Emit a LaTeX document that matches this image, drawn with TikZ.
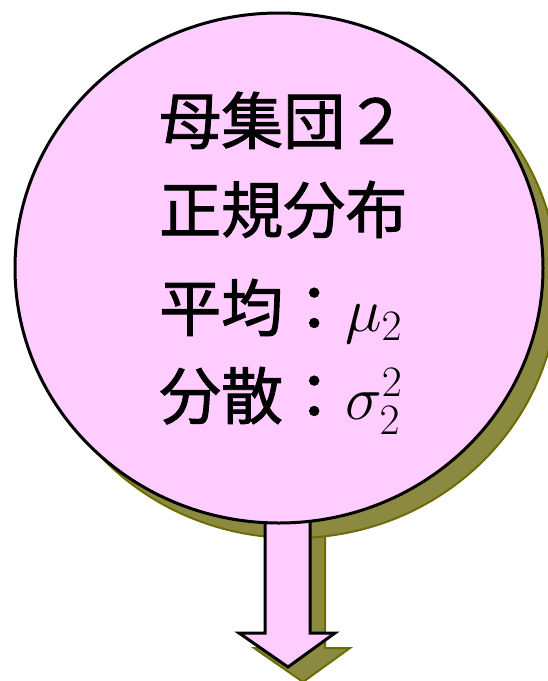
\RequirePackage{fix-cm}
\documentclass[tikz,border=0pt]{standalone}
\usepackage{fontspec}
\newfontfamily\jpfont[FakeBold=1.5]{Noto Sans CJK JP}
\usetikzlibrary{shapes.geometric}
\definecolor{pinkfill}{HTML}{FFCCFF}
\definecolor{shadowfill}{HTML}{8C8A40}
\definecolor{shadowline}{HTML}{6E6C00}
\tikzset{
  popshape/.style={ellipse, minimum width=528pt, minimum height=510pt, inner sep=0pt},
  mainlook/.style={draw=black, fill=pinkfill, line width=3pt},
  shadowlook/.style={draw=shadowline, fill=shadowfill, line width=2pt},
  txt/.style={anchor=base west, inner sep=0pt, font=\jpfont\fontsize{62}{62}\selectfont},
}
\begin{document}
\begin{tikzpicture}[x=1pt,y=-1pt]
\useasboundingbox (0,0) rectangle (548,681);
\clip (0,0) rectangle (548,681);
% shadows
\begin{scope}[shift={(15,15)}]
  \draw[shadowlook, line join=miter] (265,500) -- (265,633) -- (239,633) -- (288,667) -- (335,633) -- (310,633) -- (310,500) -- cycle;
  \node[popshape, shadowlook] (popshadow) at (279,268) {};
\end{scope}
% arrow
\draw[mainlook, line join=miter] (265,500) -- (265,633) -- (239,633) -- (288,667) -- (335,633) -- (310,633) -- (310,500) -- cycle;
% population ellipse
\node[popshape, mainlook] (pop) at (279,268) {};
% text
\node[txt] (l1) at (159,144) {母集団２};
\node[txt] (l2) at (159,233) {正規分布};
\node[txt] (l3) at (159,331) {平均：$\mu_2$};
\node[txt] (l4) at (159,419) {分散：$\sigma_2^2$};
\end{tikzpicture}
\end{document}
